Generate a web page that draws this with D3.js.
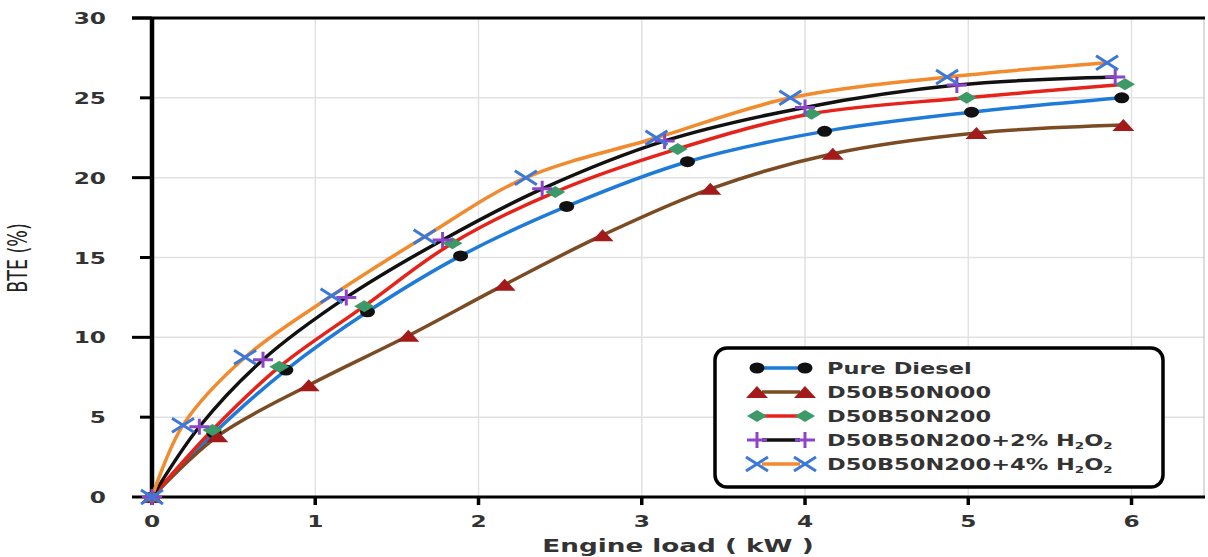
<!DOCTYPE html>
<html>
<head>
<meta charset="utf-8">
<script src="https://cdn.jsdelivr.net/npm/d3@7"></script>
<style>
  body { margin: 0; background: #fff; }
  text { font-family: "DejaVu Sans", Verdana, sans-serif; }
</style>
</head>
<body>
<div id="chart-area"></div>
<script>
// values
var xTicks = [0, 1, 2, 3, 4, 5, 6];
var yTicks = [0, 5, 10, 15, 20, 25, 30];

var dieselX = [0, 0.38, 0.82, 1.32, 1.89, 2.54, 3.28, 4.12, 5.02, 5.94];
var dieselY = [0, 4.0, 7.95, 11.6, 15.1, 18.2, 21.0, 22.9, 24.1, 25.0];

var n000X = [0, 0.40, 0.96, 1.57, 2.16, 2.76, 3.42, 4.17, 5.05, 5.95];
var n000Y = [0, 3.8, 7.0, 10.1, 13.3, 16.4, 19.3, 21.5, 22.8, 23.3];

var n200X = [0, 0.37, 0.78, 1.30, 1.84, 2.47, 3.22, 4.04, 4.99, 5.96];
var n200Y = [0, 4.2, 8.15, 11.95, 15.9, 19.1, 21.8, 24.0, 25.0, 25.85];

var h2X = [0, 0.29, 0.68, 1.19, 1.78, 2.39, 3.14, 4.00, 4.93, 5.90];
var h2Y = [0, 4.4, 8.6, 12.5, 16.1, 19.3, 22.3, 24.4, 25.8, 26.3];

var h4X = [0, 0.19, 0.57, 1.10, 1.67, 2.29, 3.09, 3.91, 4.87, 5.85];
var h4Y = [0, 4.5, 8.75, 12.6, 16.3, 20.0, 22.5, 25.0, 26.3, 27.2];

var names = ["Pure Diesel", "D50B50N000", "D50B50N200", "D50B50N200+2% H2O2", "D50B50N200+4% H2O2"];
var lineColors = ["#1f7bd8", "#7b4b24", "#e5231b", "#111111", "#f28a2e"];
var markColors = ["#111111", "#a31a1a", "#3b9a68", "#8e44c8", "#3d78d8"];
var markTypes = ["circle", "triangle", "diamond", "plus", "cross"];

var series = [
    {xs: dieselX, ys: dieselY},
    {xs: n000X, ys: n000Y},
    {xs: n200X, ys: n200Y},
    {xs: h2X, ys: h2Y},
    {xs: h4X, ys: h4Y}
].map((s, i) => {
    return {
        name: names[i], line: lineColors[i], mark: markColors[i], type: markTypes[i],
        values: s.xs.map((d, j) => { return {x: d, y: s.ys[j]} })
    }
});

var width = 1208, height = 557;
var SX = 1.5; // the picture is stretched sideways

var svg = d3.select("#chart-area").append("svg")
    .attr("width", width)
    .attr("height", height);

var x = d3.scaleLinear().domain([0, 6.45]).range([152, 1205]);
var y = d3.scaleLinear().domain([0, 30]).range([497, 18]);

// grid
svg.append("g").selectAll("line").data(xTicks.slice(1)).enter().append("line")
    .attr("x1", (d) => x(d)).attr("x2", (d) => x(d))
    .attr("y1", y(30)).attr("y2", y(0))
    .attr("stroke", "#e2e2e2").attr("stroke-width", 1.5);
svg.append("g").selectAll("line").data(yTicks.slice(1, -1)).enter().append("line")
    .attr("x1", x(0)).attr("x2", x(6.45))
    .attr("y1", (d) => y(d)).attr("y2", (d) => y(d))
    .attr("stroke", "#e2e2e2").attr("stroke-width", 1.5);
svg.append("line")
    .attr("x1", 1204).attr("x2", 1204).attr("y1", y(30)).attr("y2", y(0))
    .attr("stroke", "#d0d0d0").attr("stroke-width", 1.5);

// frame
svg.append("line")
    .attr("x1", 132).attr("x2", 1205).attr("y1", y(30)).attr("y2", y(30))
    .attr("stroke", "#000").attr("stroke-width", 3);
svg.append("line")
    .attr("x1", x(0)).attr("x2", 1205).attr("y1", y(0)).attr("y2", y(0))
    .attr("stroke", "#000").attr("stroke-width", 3);
svg.append("line")
    .attr("x1", x(0)).attr("x2", x(0)).attr("y1", y(30) - 1).attr("y2", y(0) + 3)
    .attr("stroke", "#000").attr("stroke-width", 4.5);

// y ticks and labels
var yt = svg.append("g").selectAll("g").data(yTicks).enter().append("g");
yt.append("line")
    .attr("x1", (d) => d % 10 == 0 ? 132 : 140).attr("x2", x(0))
    .attr("y1", (d) => y(d)).attr("y2", (d) => y(d))
    .attr("stroke", "#000").attr("stroke-width", 3);
yt.append("text")
    .attr("transform", (d) => "translate(106," + (y(d) + 6) + ") scale(" + SX + ",1)")
    .attr("text-anchor", "end")
    .attr("font-size", 15.5).attr("font-weight", "bold").attr("fill", "#333")
    .text((d) => d);

// x ticks and labels
var xt = svg.append("g").selectAll("g").data(xTicks).enter().append("g");
xt.append("line")
    .attr("x1", (d) => x(d)).attr("x2", (d) => x(d))
    .attr("y1", y(0)).attr("y2", y(0) + 8)
    .attr("stroke", "#000").attr("stroke-width", 3.5);
xt.append("text")
    .attr("transform", (d) => "translate(" + x(d) + ",527) scale(" + SX + ",1)")
    .attr("text-anchor", "middle")
    .attr("font-size", 15.5).attr("font-weight", "bold").attr("fill", "#333")
    .text((d) => d);

// axis titles
svg.append("text")
    .attr("transform", "translate(678,552) scale(" + SX + ",1)")
    .attr("text-anchor", "middle")
    .attr("font-size", 17.5).attr("font-weight", "bold").attr("fill", "#333")
    .text("Engine load ( kW )");
svg.append("text")
    .attr("transform", "translate(27,258) scale(" + SX + ",1) rotate(-90)")
    .attr("text-anchor", "middle")
    .attr("font-family", "'Liberation Sans Narrow', 'DejaVu Sans Condensed', sans-serif")
    .attr("font-size", 17.5).attr("fill", "#222")
    .text("BTE (%)");

// markers
function marker(g, type, color) {
    var m = g.append("g");
    if (type == "circle") {
        m.append("ellipse").attr("rx", 7.5).attr("ry", 5.5).attr("fill", color);
    } else if (type == "triangle") {
        m.append("path").attr("d", "M-11,6L0,-6L11,6Z").attr("fill", color);
    } else if (type == "diamond") {
        m.append("path").attr("d", "M-10,0L0,-6L10,0L0,6Z").attr("fill", color);
    } else if (type == "plus") {
        m.append("path").attr("d", "M-10,0H10M0,-8V8")
            .attr("stroke", color).attr("stroke-width", 3).attr("fill", "none");
    } else {
        m.append("path").attr("d", "M-11,-7L11,7M-11,7L11,-7")
            .attr("stroke", color).attr("stroke-width", 3).attr("fill", "none");
    }
    return m;
}

var line = d3.line()
    .x((d) => x(d.x))
    .y((d) => y(d.y))
    .curve(d3.curveCatmullRom.alpha(0.5));

series.forEach((s) => {
    svg.append("path")
        .datum(s.values)
        .attr("d", line)
        .attr("fill", "none")
        .attr("stroke", s.line)
        .attr("stroke-width", 3.5);
});
series.forEach((s) => {
    s.values.forEach((d) => {
        marker(svg, s.type, s.mark).attr("transform", "translate(" + x(d.x) + "," + y(d.y) + ")");
    });
});

// legend
var legend = svg.append("g");
legend.append("rect")
    .attr("x", 715).attr("y", 348).attr("width", 448).attr("height", 139)
    .attr("rx", 12).attr("ry", 12)
    .attr("fill", "#fff").attr("stroke", "#000").attr("stroke-width", 3.5);
series.forEach((s, i) => {
    var ly = 368 + i * 24;
    legend.append("line")
        .attr("x1", 762).attr("x2", 800).attr("y1", ly).attr("y2", ly)
        .attr("stroke", s.line).attr("stroke-width", 3.5);
    marker(legend, s.type, s.mark).attr("transform", "translate(757," + ly + ")");
    marker(legend, s.type, s.mark).attr("transform", "translate(805," + ly + ")");
    var t = legend.append("text")
        .attr("transform", "translate(827," + (ly + 6) + ") scale(" + SX + ",1)")
        .attr("font-size", 15).attr("font-weight", "bold").attr("fill", "#333");
    var parts = s.name.split(" H2O2");
    t.append("tspan").text(parts[0]);
    if (parts.length > 1) {
        t.append("tspan").text(" H");
        t.append("tspan").attr("font-size", 9).attr("dy", 3).text("2");
        t.append("tspan").attr("dy", -3).text("O");
        t.append("tspan").attr("font-size", 9).attr("dy", 3).text("2");
    }
});
</script>
</body>
</html>
